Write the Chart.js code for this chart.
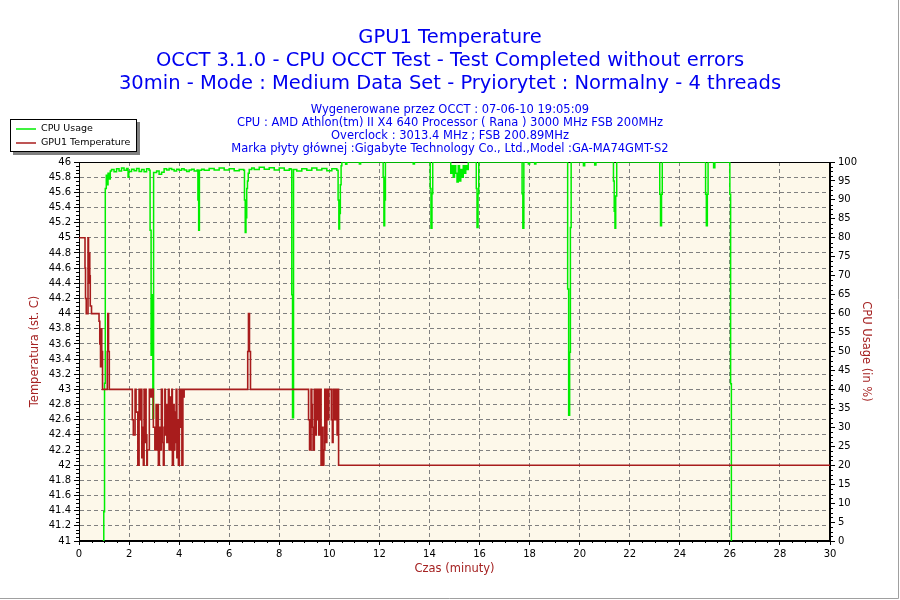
<!DOCTYPE html>
<html>
<head>
<meta charset="utf-8">
<title>GPU1 Temperature</title>
<script src="https://cdn.jsdelivr.net/npm/chart.js@4.4.1/dist/chart.umd.min.js"></script>
<style>
  body { margin: 0; background: #fff; }
  canvas { display: block; }
</style>
</head>
<body>
<canvas id="gpuChart" width="900" height="600"></canvas>
<script>
// time in minutes
const tempTimes = [
  0, 0.24, 0.26, 0.29, 0.36, 0.38, 0.4, 0.43, 0.45, 0.5, 0.8, 0.83, 0.86, 0.88, 0.91, 0.94,
  1.13, 1.15, 1.18, 1.21,
  2.13, 2.17, 2.24, 2.28, 2.35, 2.4, 2.44, 2.48, 2.51, 2.55, 2.57, 2.6, 2.63, 2.65, 2.68, 2.71,
  2.73, 2.81, 2.87, 2.91, 2.97, 3.03, 3.08, 3.12, 3.15, 3.17, 3.21, 3.24, 3.29, 3.33, 3.37, 3.4,
  3.43, 3.45, 3.48, 3.51, 3.57, 3.6, 3.64, 3.67, 3.71, 3.73, 3.77, 3.8, 3.83, 3.85, 3.88, 3.91,
  3.95, 3.97, 4.01, 4.04, 4.08, 4.11, 4.15, 4.17, 4.2,
  6.74, 6.77, 6.81, 6.85,
  9.17, 9.21, 9.27, 9.3, 9.32, 9.35, 9.4, 9.43, 9.48, 9.51, 9.55, 9.58, 9.63, 9.67, 9.71, 9.75,
  9.78, 9.82, 9.86, 9.9, 9.93, 9.98, 10.08, 10.12, 10.15, 10.2, 10.25, 10.31, 10.35, 10.37, 30
];
const tempValues = [
  45, 44.6, 44.2, 44.0, 45, 44.4, 44.8, 44.5, 44.1, 44.0, 43.9, 43.6, 43.3, 43.8, 43.5, 43.0,
  43.5, 44.0, 43.5, 43.0,
  42.6, 42.4, 43, 42.7, 42.0, 43, 42.6, 43, 42.1, 42.5, 42.0, 43, 42.3, 43, 42.4, 42.0,
  42.2, 43, 42.9, 43, 42.5, 42.2, 42.8, 42.2, 42.8, 42.0, 42.5, 42.2, 43, 42.3, 42.0, 42.5,
  43, 42.4, 42.8, 42.3, 43, 42.2, 42.9, 42.2, 43, 42.0, 42.8, 42.2, 42.7, 42.3, 43, 42.1,
  42.6, 42.0, 43, 42.5, 43, 42.0, 43, 42.9, 43,
  43.5, 44, 43.5, 43,
  42.6, 42.2, 43, 42.8, 42.5, 42.2, 43, 42.4, 43, 42.6, 43, 42.4, 43, 42.0, 42.5, 42.0,
  42.2, 43, 42.3, 43, 42.6, 43, 42.6, 42.3, 43, 42.6, 43, 42.4, 43, 42, 42
];

const cpuTimes = [
  0.95, 0.99, 1.02, 1.05, 1.09, 1.12, 1.16, 1.2, 1.25, 1.3, 1.4, 1.5, 1.6, 1.7, 1.8, 1.9,
  1.96, 1.99, 2.1, 2.2, 2.3, 2.4, 2.5, 2.6, 2.7, 2.8, 2.84, 2.88, 2.92, 2.95, 2.98, 3.1,
  3.2, 3.3, 3.4, 3.5, 3.6, 3.7, 3.8, 3.9, 4.0, 4.1, 4.2, 4.3, 4.4, 4.5, 4.6, 4.72,
  4.75, 4.78, 4.81, 4.9, 5.0, 5.2, 5.4, 5.6, 5.8, 6.0, 6.2, 6.4, 6.58, 6.61, 6.64, 6.67,
  6.7, 6.73, 6.76, 6.8, 6.9, 7.0, 7.2, 7.4, 7.6, 7.8, 8.0, 8.2, 8.4, 8.47, 8.5, 8.53,
  8.57, 8.7, 8.9, 9.1, 9.3, 9.5, 9.7, 9.9, 10.1, 10.3, 10.35, 10.38, 10.41, 10.44, 10.47, 10.5,
  10.65, 10.7, 11.2, 11.25, 12.15, 12.18, 12.21, 12.24, 13.35, 13.4, 14.03, 14.06, 14.1, 14.13,
  14.85, 14.9, 14.95, 15.0, 15.05, 15.1, 15.15, 15.2, 15.25, 15.3, 15.35, 15.4, 15.45, 15.5, 15.55,
  15.87, 15.9, 15.94, 15.97, 17.7, 17.73, 17.77, 17.95, 18.0, 18.2, 18.25,
  19.52, 19.56, 19.6, 19.63, 19.66, 20.15, 20.2, 20.6, 20.65,
  21.35, 21.38, 21.41, 21.44, 21.48, 23.2, 23.23, 23.27, 23.3,
  25.03, 25.06, 25.1, 25.13, 25.35, 25.4, 26.0, 26.03, 26.06
];
const cpuValues = [
  0, 7.7, 41.6, 93, 96.5, 94, 97, 95.5, 97.6, 98, 97.4, 98.2, 97.6, 98.4, 97.8, 98.3,
  96, 97.5, 98.1, 97.7, 98.3, 97.5, 98, 97.4, 98.2, 97.8, 82, 49, 65, 32.4, 97.2, 97.6,
  96.8, 97.3, 98.2, 97.9, 98.3, 98, 97.6, 98.1, 97.8, 98.2, 97.9, 97.5, 97.9, 98.1, 97.6, 97.9,
  90, 82, 97.8, 98.1, 97.8, 98.3, 97.9, 98.4, 97.9, 98.2, 97.7, 98, 97.8, 90, 81.4, 85.3,
  93, 95, 97, 98, 98.4, 98, 98.6, 98.1, 98.5, 97.9, 98.4, 97.8, 98.2, 98, 65, 32.5,
  98, 97.6, 98.2, 97.8, 98.4, 97.9, 98.3, 97.7, 98.2, 97.8, 90, 82.3, 86.4, 94, 99, 100,
  99.4, 100, 99.5, 100, 96, 83.2, 90, 100, 99.5, 100, 93, 82.5, 91.6, 100,
  97, 99, 96, 99, 97, 94.7, 99, 95, 98, 96, 99, 97, 99, 98, 100,
  93, 82.7, 91.6, 100, 91.6, 82.5, 100, 99.5, 100, 99.5, 100,
  66.5, 33.2, 49.8, 82.7, 100, 99, 100, 99.2, 100,
  95, 87, 82.5, 91, 100, 91.5, 83.2, 91.5, 100,
  91.5, 83.2, 91.5, 100, 98.5, 100, 91.5, 41.5, 0
];

const titleLines = [
  "GPU1 Temperature",
  "OCCT 3.1.0 - CPU OCCT Test - Test Completed without errors",
  "30min - Mode : Medium Data Set - Pryiorytet : Normalny - 4 threads"
];
const infoLines = [
  "Wygenerowane przez OCCT : 07-06-10 19:05:09",
  "CPU : AMD Athlon(tm) II X4 640 Processor ( Rana ) 3000 MHz FSB 200MHz",
  "Overclock : 3013.4 MHz ; FSB 200.89MHz",
  "Marka płyty głównej :Gigabyte Technology Co., Ltd.,Model :GA-MA74GMT-S2"
];

const GREEN = "#00ee00";
const DARKRED = "#a81c1c";
const AXISRED = "#a52222";
const BLUE = "#0000f0";

Chart.defaults.font.family = "'DejaVu Sans', sans-serif";
Chart.defaults.color = "#000";

function toPoints(xs, ys) {
  return xs.map((x, i) => ({ x: x, y: ys[i] }));
}

// paper background, frame, minor ticks, legend box, outer edge
const occtDecor = {
  id: "occtDecor",
  beforeDraw(chart) {
    const { ctx, chartArea: a } = chart;
    ctx.save();
    ctx.fillStyle = "#ffffff";
    ctx.fillRect(0, 0, chart.width, chart.height);
    ctx.fillStyle = "#fdf8ea";
    ctx.fillRect(a.left, a.top, a.right - a.left, a.bottom - a.top);
    ctx.restore();
  },
  beforeDatasetsDraw(chart) {
    const { ctx, chartArea: a, scales } = chart;
    ctx.save();
    ctx.strokeStyle = "#000";
    ctx.lineWidth = 1;
    ctx.strokeRect(Math.round(a.left) + 0.5, Math.round(a.top) + 0.5,
      Math.round(a.right - a.left) - 1, Math.round(a.bottom - a.top) - 1);
    ctx.beginPath();
    for (let i = 0; i <= 100; i++) {
      if (i % 4 === 0) continue;
      const y = Math.round(scales.y.getPixelForValue(41 + i * 0.05)) + 0.5;
      ctx.moveTo(a.left - 3, y);
      ctx.lineTo(a.left, y);
    }
    for (let i = 0; i <= 80; i++) {
      if (i % 4 === 0) continue;
      const y = Math.round(scales.y1.getPixelForValue(i * 1.25)) + 0.5;
      ctx.moveTo(a.right, y);
      ctx.lineTo(a.right + 3, y);
    }
    for (let i = 0; i <= 60; i++) {
      if (i % 4 === 0) continue;
      const x = Math.round(scales.x.getPixelForValue(i * 0.5)) + 0.5;
      ctx.moveTo(x, a.bottom);
      ctx.lineTo(x, a.bottom + 2);
    }
    ctx.stroke();
    ctx.restore();
  },
  afterDraw(chart) {
    const ctx = chart.ctx;
    ctx.save();
    // legend
    ctx.fillStyle = "#808080";
    ctx.fillRect(13, 122, 127, 33);
    ctx.fillStyle = "#ffffff";
    ctx.fillRect(10, 119, 127, 33);
    ctx.strokeStyle = "#000";
    ctx.lineWidth = 1;
    ctx.strokeRect(10.5, 119.5, 126, 32);
    ctx.lineWidth = 1.5;
    ctx.strokeStyle = GREEN;
    ctx.beginPath(); ctx.moveTo(16, 129); ctx.lineTo(36, 129); ctx.stroke();
    ctx.strokeStyle = DARKRED;
    ctx.beginPath(); ctx.moveTo(16, 143); ctx.lineTo(36, 143); ctx.stroke();
    ctx.fillStyle = "#000";
    ctx.font = "9.5px 'DejaVu Sans', sans-serif";
    ctx.textBaseline = "middle";
    ctx.fillText("CPU Usage", 41, 129);
    ctx.fillText("GPU1 Temperature", 41, 143);
    // outer edge
    ctx.strokeStyle = "#a0a0a0";
    ctx.lineWidth = 1;
    ctx.beginPath();
    ctx.moveTo(898.5, 0); ctx.lineTo(898.5, 598.5); ctx.lineTo(0, 598.5);
    ctx.stroke();
    ctx.restore();
  }
};

new Chart(document.getElementById("gpuChart"), {
  type: "line",
  data: {
    datasets: [
      {
        label: "CPU Usage",
        data: toPoints(cpuTimes, cpuValues),
        yAxisID: "y1",
        borderColor: GREEN,
        borderWidth: 1.5,
        pointRadius: 0,
        stepped: true,
        order: 1,
      },
      {
        label: "GPU1 Temperature",
        data: toPoints(tempTimes, tempValues),
        yAxisID: "y",
        borderColor: DARKRED,
        borderWidth: 1.6,
        pointRadius: 0,
        stepped: true,
        order: 0,
      },
    ],
  },
  options: {
    responsive: false,
    animation: false,
    devicePixelRatio: 1,
    layout: { padding: 0 },
    plugins: {
      legend: { display: false },
      tooltip: { enabled: false },
      title: {
        display: true,
        text: titleLines,
        color: BLUE,
        font: { size: 19.5, weight: "normal", lineHeight: 22.6 / 19.5 },
        padding: { top: 27, bottom: 0 },
      },
      subtitle: {
        display: true,
        text: infoLines,
        color: BLUE,
        font: { size: 11.5, lineHeight: 13 / 11.5 },
        padding: { top: 8.7, bottom: 6.5 },
      },
    },
    scales: {
      x: {
        type: "linear",
        min: 0,
        max: 30,
        ticks: { stepSize: 2, font: { size: 10 }, padding: 3, maxRotation: 0, callback: (v) => String(v) },
        grid: { color: "#808080", tickColor: "#000", tickLength: 4 },
        border: { display: true, color: "#000", dash: [4, 3] },
        title: {
          display: true,
          text: "Czas (minuty)",
          color: AXISRED,
          font: { size: 11.5 },
          padding: { top: 0, bottom: 24 },
        },
        afterFit: (scale) => { scale.height = 59; },
      },
      y: {
        type: "linear",
        position: "left",
        min: 41,
        max: 46,
        ticks: {
          stepSize: 0.2,
          autoSkip: false,
          font: { size: 10 },
          padding: 3,
          callback: (v) => String(Math.round(v * 10) / 10),
        },
        grid: { color: "#808080", tickColor: "#000", tickLength: 5 },
        border: { display: true, color: "#000", dash: [4, 3] },
        title: {
          display: true,
          text: "Temperatura (st. C)",
          color: AXISRED,
          font: { size: 11.5 },
          padding: { top: 28, bottom: 0 },
        },
        afterFit: (scale) => { scale.width = 79; },
      },
      y1: {
        type: "linear",
        position: "right",
        min: 0,
        max: 100,
        ticks: { stepSize: 5, autoSkip: false, font: { size: 10 }, padding: 3 },
        grid: { drawOnChartArea: false, tickColor: "#000", tickLength: 5 },
        border: { display: true, color: "#000" },
        title: {
          display: true,
          text: "CPU Usage (in %)",
          color: AXISRED,
          font: { size: 11.5 },
          padding: { top: 27, bottom: 0 },
        },
        afterFit: (scale) => { scale.width = 70; },
      },
    },
  },
  plugins: [occtDecor],
});
</script>
</body>
</html>
